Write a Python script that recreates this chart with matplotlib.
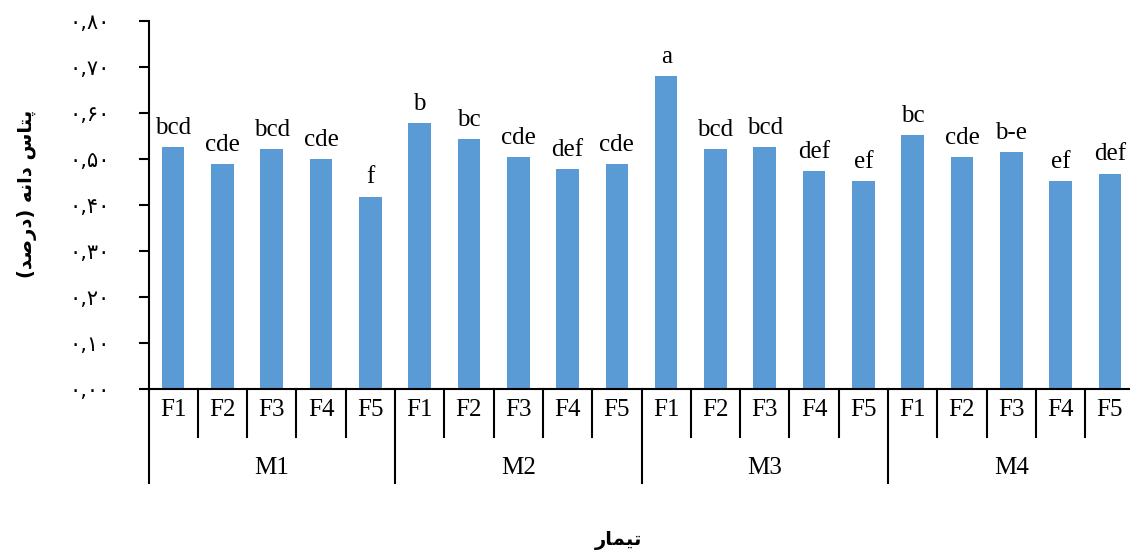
import matplotlib
matplotlib.use("Agg")
import matplotlib.pyplot as plt
import matplotlib.transforms as mtransforms
from matplotlib.ticker import FuncFormatter, MultipleLocator

# potassium content of grain (%) per treatment
groups = ["M1", "M2", "M3", "M4"]
levels = ["F1", "F2", "F3", "F4", "F5"]
values = [
    0.526, 0.488, 0.521, 0.499, 0.418,
    0.577, 0.543, 0.504, 0.477, 0.488,
    0.679, 0.521, 0.526, 0.473, 0.451,
    0.551, 0.504, 0.515, 0.451, 0.468,
]
letters = [
    "bcd", "cde", "bcd", "cde", "f",
    "b", "bc", "cde", "def", "cde",
    "a", "bcd", "bcd", "def", "ef",
    "bc", "cde", "b-e", "ef", "def",
]

# Persian text, already shaped (presentation forms, visual order)
ylabel_fa = "(\ufeaa\ufebb\ufead\ufea9) \ufeea\ufee7\ufe8d\ufea9 \ufeb1\ufe8e\ufe98\ufb58"
xlabel_fa = "\ufead\ufe8e\ufee4\ufbff\ufe97"
fa_digits = str.maketrans("0123456789.", "\u06f0\u06f1\u06f2\u06f3\u06f4\u06f5\u06f6\u06f7\u06f8\u06f9,")

serif = "Liberation Serif"
blue = "#5b9bd5"

fig = plt.figure(figsize=(11.3, 5.52), dpi=100)
ax = fig.add_axes([148.5 / 1130, 1 - 389 / 552, 986 / 1130, 368.3 / 552])

x = list(range(len(values)))
bars = ax.bar(x, values, width=0.46, color=blue, zorder=2)
for xi, v, lab in zip(x, values, letters):
    ax.annotate(lab, (xi, v), xytext=(0, 6), textcoords="offset points",
                ha="center", va="bottom", fontsize=18, family=serif)

ax.set_xlim(-0.5, len(values) - 0.5)
ax.set_ylim(0, 0.8)
ax.yaxis.set_major_locator(MultipleLocator(0.1))
ax.yaxis.set_major_formatter(FuncFormatter(lambda v, p: f"{v:.2f}".translate(fa_digits)))
ax.tick_params(axis="y", direction="out", length=7, width=1.5, pad=21, labelsize=15)
for t in ax.get_yticklabels():
    t.set_family("DejaVu Sans")

ax.set_xticks(x)
ax.set_xticklabels(levels * len(groups), family=serif, fontsize=18)
ax.tick_params(axis="x", length=0, pad=7)

for s in ["top", "right"]:
    ax.spines[s].set_visible(False)
ax.spines["left"].set_linewidth(1.5)
ax.spines["bottom"].set_linewidth(1.5)

# separators under the axis: short ones between levels, long ones between groups
trans = mtransforms.blended_transform_factory(ax.transData, ax.transAxes)
n = len(levels)
for i in range(len(values) + 1):
    low = -0.255 if i % n == 0 else -0.13
    ax.plot([i - 0.5, i - 0.5], [0, low], transform=trans, color="black",
            lw=1.5, clip_on=False)
for g, name in enumerate(groups):
    ax.text(g * n + (n - 1) / 2, -0.215, name, transform=trans, ha="center",
            va="center", fontsize=18, family=serif)

fig.text(27 / 1130, 1 - 194 / 552, ylabel_fa, rotation=90, ha="center", va="center",
         fontsize=14, fontweight="bold", family="DejaVu Sans")
fig.text(618 / 1130, 1 - 540 / 552, xlabel_fa, ha="center", va="center",
         fontsize=14, fontweight="bold", family="DejaVu Sans")

fig.savefig("out.png", dpi=100, facecolor="white")
